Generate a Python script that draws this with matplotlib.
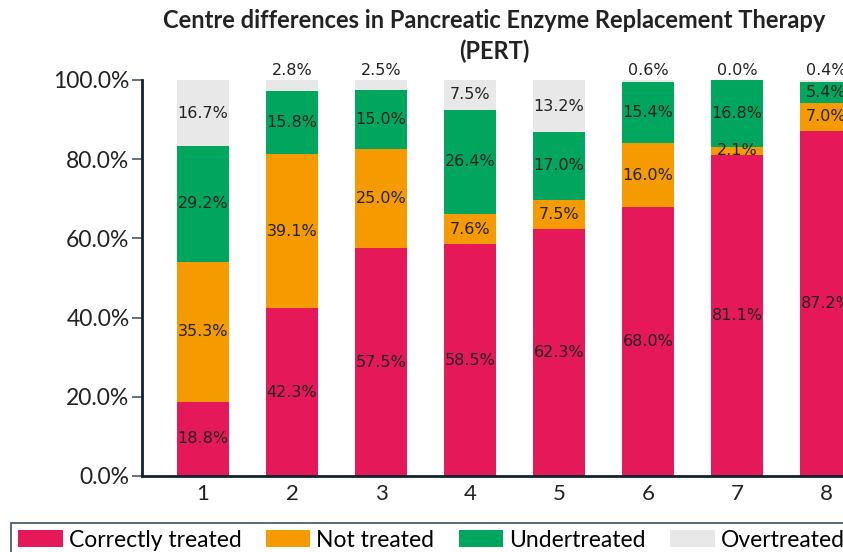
import matplotlib
matplotlib.use("Agg")
import matplotlib.pyplot as plt
import numpy as np

categories = ["1", "2", "3", "4", "5", "6", "7", "8"]
correctly = [18.8, 42.3, 57.5, 58.5, 62.3, 68.0, 81.1, 87.2]
not_treated = [35.3, 39.1, 25.0, 7.6, 7.5, 16.0, 2.1, 7.0]
under = [29.2, 15.8, 15.0, 26.4, 17.0, 15.4, 16.8, 5.4]
over = [16.7, 2.8, 2.5, 7.5, 13.2, 0.6, 0.0, 0.4]

series = [("Correctly treated", correctly, "#E5195A"),
          ("Not treated", not_treated, "#F59B00"),
          ("Undertreated", under, "#00A65E"),
          ("Overtreated", over, "#E8E8E8")]

plt.rcParams['font.family'] = ['Lato', 'DejaVu Sans']
fig = plt.figure(figsize=(8.43, 5.52), dpi=100)
ax = fig.add_axes([142/843, 76/552, 701/843, 396/552])

x = np.arange(1, len(categories) + 1)
bottom = np.zeros(len(categories))
handles = []
for name, vals, col in series:
    vals = np.array(vals)
    b = ax.bar(x, vals, 0.575, bottom=bottom, color=col, label=name, clip_on=True)
    handles.append(b)
    for xi, v, bt in zip(x, vals, bottom):
        if name == "Overtreated" and v < 5:
            ax.text(xi, 100.4, f"{v:.1f}%", ha="center", va="bottom", fontsize=11.5,
                    family="DejaVu Sans", color="#222222", clip_on=False)
        else:
            ax.text(xi, bt + v / 2, f"{v:.1f}%", ha="center", va="center", fontsize=11.5,
                    family="DejaVu Sans", color="#222222")
    bottom = bottom + vals

ax.set_xlim(1 - 61/89, 1 - 61/89 + 701/89)
ax.set_ylim(0, 100)
ax.set_xticks(x)
ax.set_xticklabels(categories, fontsize=16, color="#222222")
ax.set_yticks(np.arange(0, 101, 20))
ax.set_yticklabels([f"{v:.1f}%" for v in np.arange(0, 101, 20)], fontsize=16.5, color="#222222")
ax.tick_params(axis="y", length=7, width=1.2, color="#4a5a68", pad=2)
ax.tick_params(axis="x", length=0, pad=6)
for s in ["top", "right"]:
    ax.spines[s].set_visible(False)
for s in ["left", "bottom"]:
    ax.spines[s].set_color("#0d2233")
    ax.spines[s].set_linewidth(2)

fig.text(494/843, 1 - 9/552, "Centre differences in Pancreatic Enzyme Replacement Therapy\n(PERT)",
         ha="center", va="top", fontsize=17, fontweight="bold", color="#222222",
         linespacing=1.4)

leg = fig.legend(handles=handles, loc="upper left", bbox_to_anchor=(11/843, 1 - 523/552),
                 ncol=4, fontsize=16.5, frameon=True, fancybox=False, edgecolor="#0d2233",
                 handlelength=1.95, handleheight=0.75, handletextpad=0.27, columnspacing=1.05,
                 borderpad=0.3, borderaxespad=0)
leg.get_frame().set_linewidth(1.2)

fig.savefig("out.png", dpi=100)
